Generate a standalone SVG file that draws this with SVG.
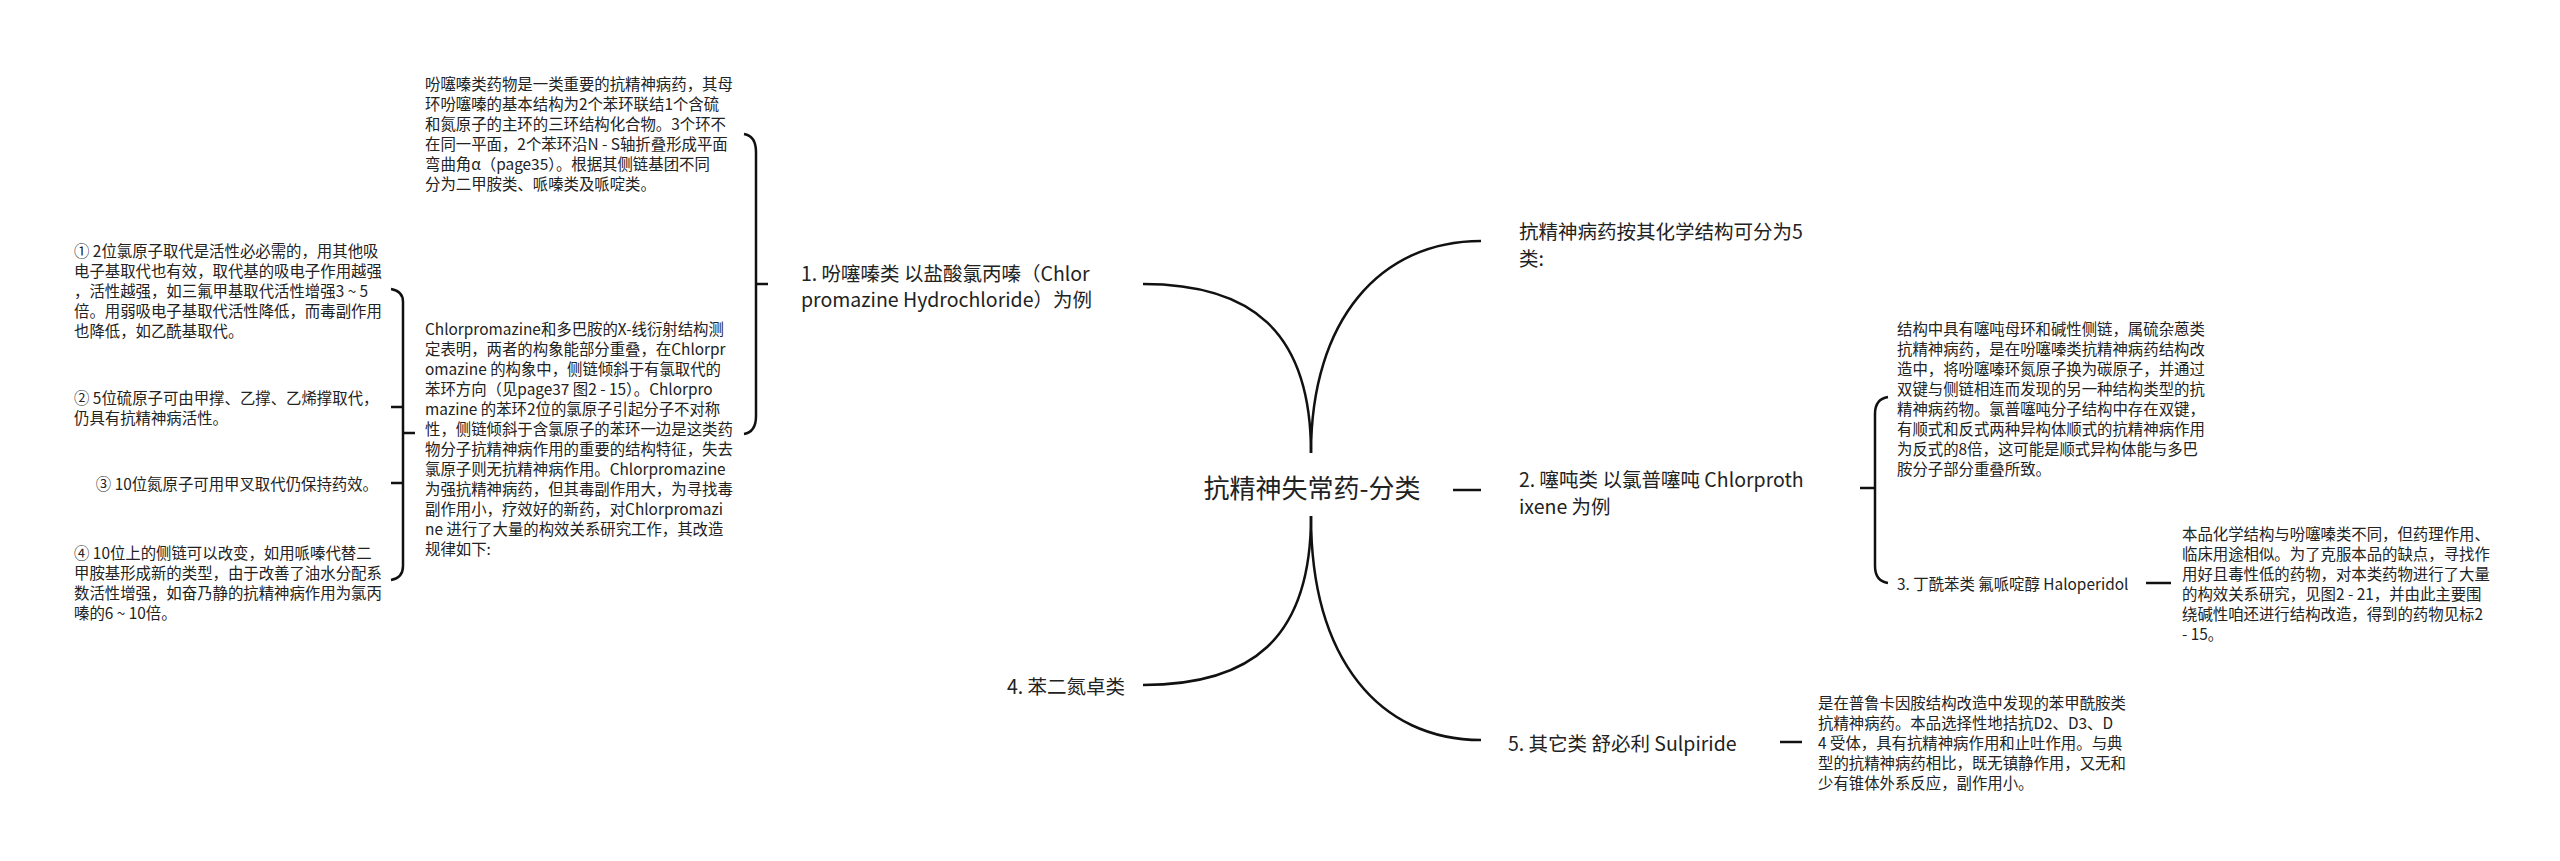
<svg xmlns="http://www.w3.org/2000/svg" width="2560" height="861" viewBox="0 0 2560 861">
<style>
text{font-family:"Noto Sans CJK SC","Noto Sans",sans-serif;fill:#222;dominant-baseline:central}
.root{font-size:26px}
.l1{font-size:19.5px}
.d{font-size:15.4px}
.c{fill:none;stroke:#111;stroke-width:2.5}
</style>
<rect width="2560" height="861" fill="#fff"/>
<g id="connectors">
<path class="c" d="M1311 453 C1311 330 1250 284 1143 284"/>
<path class="c" d="M1311 516 C1311 640 1250 685 1143 685"/>
<path class="c" d="M1311 453 C1311 320 1380 241 1481 241"/>
<path class="c" d="M1311 516 C1311 660 1380 740 1481 740"/>
<path class="c" d="M1453 490 H1481"/>
<path class="c" d="M768 284 H756"/>
<path class="c" d="M744 134 Q756 136 756 152 L756 416 Q756 432 744 434"/>
<path class="c" d="M415 433 H403"/>
<path class="c" d="M391 289 Q403 291 403 302 L403 566 Q403 578 391 580"/>
<path class="c" d="M391 407 Q403 407 403 407"/>
<path class="c" d="M391 483 Q403 483 403 483"/>
<path class="c" d="M1860 488 H1875"/>
<path class="c" d="M1888 397 Q1875 399 1875 414 L1875 566 Q1875 581 1888 583"/>
<path class="c" d="M2146 583 H2171"/>
<path class="c" d="M1780 742 H1802"/>
</g>
<g id="root"><text class="root" x="1312" y="486" text-anchor="middle">抗精神失常药-分类</text></g>
<g id="n1"><text class="l1" x="801" y="272">1. 吩噻嗪类 以盐酸氯丙嗪（Chlor</text><text class="l1" x="801" y="298">promazine Hydrochloride）为例</text></g>
<g id="n1a"><text class="d" x="425" y="83">吩噻嗪类药物是一类重要的抗精神病药，其母</text><text class="d" x="425" y="103">环吩噻嗪的基本结构为2个苯环联结1个含硫</text><text class="d" x="425" y="123">和氮原子的主环的三环结构化合物。3个环不</text><text class="d" x="425" y="143">在同一平面，2个苯环沿N - S轴折叠形成平面</text><text class="d" x="425" y="163">弯曲角α（page35）。根据其侧链基团不同</text><text class="d" x="425" y="183">分为二甲胺类、哌嗪类及哌啶类。</text></g>
<g id="n1b"><text class="d" x="425" y="328">Chlorpromazine和多巴胺的X-线衍射结构测</text><text class="d" x="425" y="348">定表明，两者的构象能部分重叠，在Chlorpr</text><text class="d" x="425" y="368">omazine 的构象中，侧链倾斜于有氯取代的</text><text class="d" x="425" y="388">苯环方向（见page37 图2 - 15）。Chlorpro</text><text class="d" x="425" y="408">mazine 的苯环2位的氯原子引起分子不对称</text><text class="d" x="425" y="428">性，侧链倾斜于含氯原子的苯环一边是这类药</text><text class="d" x="425" y="448">物分子抗精神病作用的重要的结构特征，失去</text><text class="d" x="425" y="468">氯原子则无抗精神病作用。Chlorpromazine</text><text class="d" x="425" y="488">为强抗精神病药，但其毒副作用大，为寻找毒</text><text class="d" x="425" y="508">副作用小，疗效好的新药，对Chlorpromazi</text><text class="d" x="425" y="528">ne 进行了大量的构效关系研究工作，其改造</text><text class="d" x="425" y="548">规律如下:</text></g>
<g id="r1"><text class="d" x="74" y="250">① 2位氯原子取代是活性必必需的，用其他吸</text><text class="d" x="74" y="270">电子基取代也有效，取代基的吸电子作用越强</text><text class="d" x="74" y="290">，活性越强，如三氟甲基取代活性增强3 ~ 5</text><text class="d" x="74" y="310">倍。用弱吸电子基取代活性降低，而毒副作用</text><text class="d" x="74" y="330">也降低，如乙酰基取代。</text></g>
<g id="r2"><text class="d" x="74" y="397">② 5位硫原子可由甲撑、乙撑、乙烯撑取代，</text><text class="d" x="74" y="417">仍具有抗精神病活性。</text></g>
<g id="r3"><text class="d" x="378" y="483" text-anchor="end">③ 10位氮原子可用甲叉取代仍保持药效。</text></g>
<g id="r4"><text class="d" x="74" y="552">④ 10位上的侧链可以改变，如用哌嗪代替二</text><text class="d" x="74" y="572">甲胺基形成新的类型，由于改善了油水分配系</text><text class="d" x="74" y="592">数活性增强，如奋乃静的抗精神病作用为氯丙</text><text class="d" x="74" y="612">嗪的6 ~ 10倍。</text></g>
<g id="n4"><text class="l1" x="1125" y="685" text-anchor="end">4. 苯二氮卓类</text></g>
<g id="n0"><text class="l1" x="1519" y="230">抗精神病药按其化学结构可分为5</text><text class="l1" x="1519" y="257">类:</text></g>
<g id="n2"><text class="l1" x="1519" y="478">2. 噻吨类 以氯普噻吨 Chlorproth</text><text class="l1" x="1519" y="505">ixene 为例</text></g>
<g id="n2a"><text class="d" x="1897" y="328">结构中具有噻吨母环和碱性侧链，属硫杂蒽类</text><text class="d" x="1897" y="348">抗精神病药，是在吩噻嗪类抗精神病药结构改</text><text class="d" x="1897" y="368">造中，将吩噻嗪环氮原子换为碳原子，并通过</text><text class="d" x="1897" y="388">双键与侧链相连而发现的另一种结构类型的抗</text><text class="d" x="1897" y="408">精神病药物。氯普噻吨分子结构中存在双键，</text><text class="d" x="1897" y="428">有顺式和反式两种异构体顺式的抗精神病作用</text><text class="d" x="1897" y="448">为反式的8倍，这可能是顺式异构体能与多巴</text><text class="d" x="1897" y="468">胺分子部分重叠所致。</text></g>
<g id="n3"><text class="d" x="1897" y="583">3. 丁酰苯类 氟哌啶醇 Haloperidol</text></g>
<g id="n3a"><text class="d" x="2182" y="533">本品化学结构与吩噻嗪类不同，但药理作用、</text><text class="d" x="2182" y="553">临床用途相似。为了克服本品的缺点，寻找作</text><text class="d" x="2182" y="573">用好且毒性低的药物，对本类药物进行了大量</text><text class="d" x="2182" y="593">的构效关系研究，见图2 - 21，并由此主要围</text><text class="d" x="2182" y="613">绕碱性咱还进行结构改造，得到的药物见标2</text><text class="d" x="2182" y="633"> - 15。</text></g>
<g id="n5"><text class="l1" x="1508" y="742">5. 其它类 舒必利 Sulpiride</text></g>
<g id="n5a"><text class="d" x="1818" y="702">是在普鲁卡因胺结构改造中发现的苯甲酰胺类</text><text class="d" x="1818" y="722">抗精神病药。本品选择性地拮抗D2、D3、D</text><text class="d" x="1818" y="742">4 受体，具有抗精神病作用和止吐作用。与典</text><text class="d" x="1818" y="762">型的抗精神病药相比，既无镇静作用，又无和</text><text class="d" x="1818" y="782">少有锥体外系反应，副作用小。</text></g>
</svg>
